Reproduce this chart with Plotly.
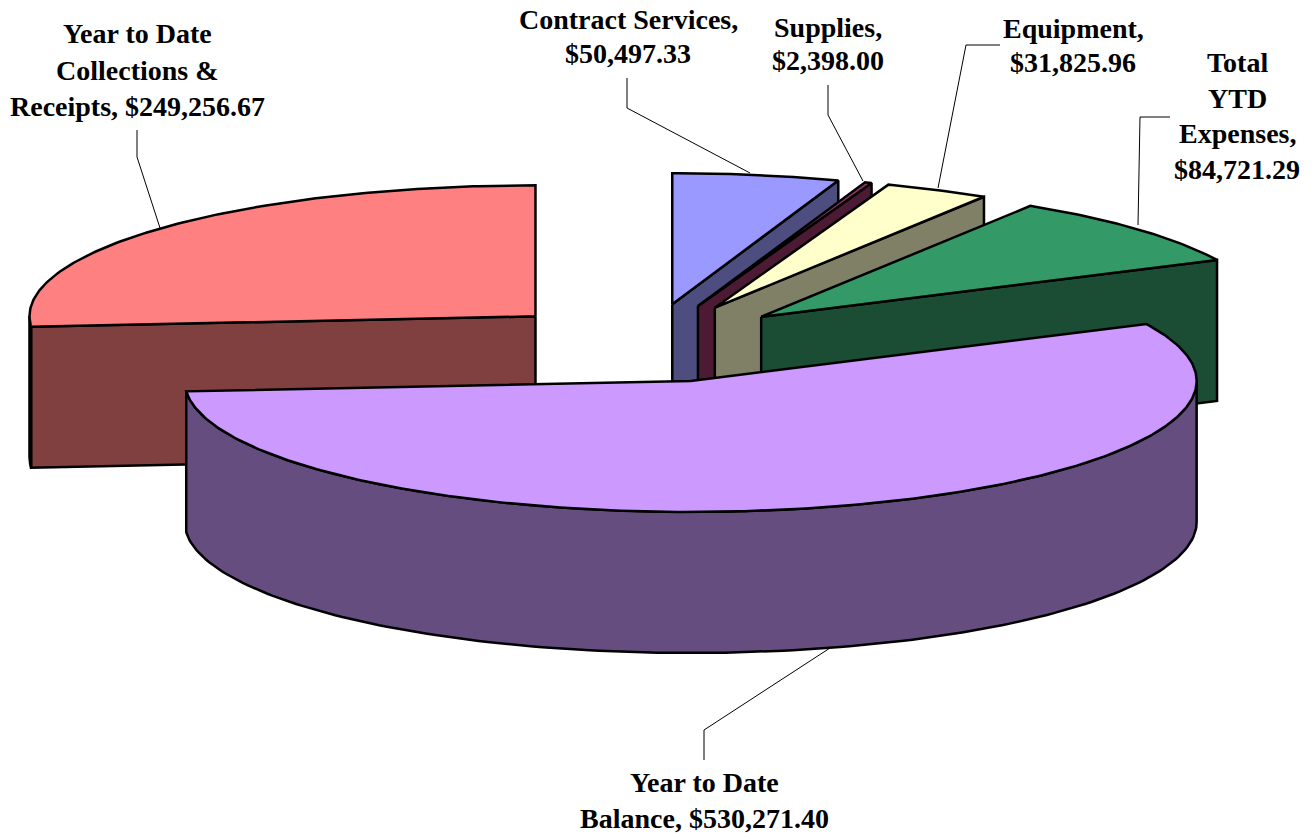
import numpy as np
import plotly.graph_objects as go

# --- data (clockwise from 12 o'clock)
categories = ["Contract Services", "Supplies", "Equipment", "Total YTD Expenses",
              "Year to Date Balance", "Year to Date Collections & Receipts"]
values = [50497.33, 2398.00, 31825.96, 84721.29, 530271.40, 249256.67]
top_colors = ["#9999FF", "#993366", "#FFFFCC", "#339966", "#CC99FF", "#FF8080"]
side_colors = ["#4D4D80", "#4D1A33", "#808066", "#1A4D33", "#664D80", "#804040"]

# --- label layout: lines of text, centre x, centre y of each line
label_lines = [
    (["Contract Services,", "{v}"], 628, [19, 53]),
    (["Supplies,", "{v}"], 828, [27, 60]),
    (["Equipment,", "{v}"], 1073, [28, 62]),
    (["Total", "YTD", "Expenses,", "{v}"], 1237, [62, 98, 133, 169]),
    (["Year to Date", "Balance, {v}"], 704, [782, 818]),
    (["Year to Date", "Collections &", "Receipts, {v}"], 137, [33, 70, 106]),
]
leader_lines = [
    ([627, 627, 750], [78, 108, 173]),
    ([828, 828, 863], [85, 115, 181]),
    ([1000, 966, 938], [45, 45, 188]),
    ([1170, 1140, 1138], [117, 117, 225]),
    ([704, 704, 830], [760, 730, 648]),
    ([137, 137, 160], [130, 157, 228]),
]

# --- projection of the pie
CX, CY, RX, RY, DEPTH, EXPLODE = 647, 343, 506, 131, 141, 0.30
x_nudge = [0, 0, 1, 1, 4, 0]
LW = 2.5


def rim(ax, ay, t):
    return ax + RX * np.sin(t), ay - RY * np.cos(t)


fig = go.Figure()


def face(xs, ys, color, name):
    fig.add_trace(go.Scatter(
        x=list(xs), y=list(ys), mode="lines", fill="toself", fillcolor=color,
        line=dict(color="black", width=LW), hoverinfo="text", text=name, showlegend=False))


def draw_slice(t0, t1, top, side, name, nudge):
    mid = (t0 + t1) / 2
    ax, ay = rim(CX, CY, mid)
    ax = CX + EXPLODE * (ax - CX) + nudge
    ay = CY + EXPLODE * (ay - CY)
    # visible radial cut faces
    if np.sin(t0) < -1e-6:
        x, y = rim(ax, ay, t0)
        face([ax, x, x, ax, ax], [ay, y, y + DEPTH, ay + DEPTH, ay], side, name)
    if np.sin(t1) > 1e-6:
        x, y = rim(ax, ay, t1)
        face([ax, x, x, ax, ax], [ay, y, y + DEPTH, ay + DEPTH, ay], side, name)
    # visible outer wall
    a0, a1 = max(t0, np.pi / 2), min(t1, 3 * np.pi / 2)
    if a1 > a0:
        tt = np.linspace(a0, a1, 160)
        x, y = rim(ax, ay, tt)
        face(np.r_[x, x[::-1], x[0]], np.r_[y, y[::-1] + DEPTH, y[0]], side, name)
    # top face
    tt = np.linspace(t0, t1, max(8, int((t1 - t0) * 90)))
    x, y = rim(ax, ay, tt)
    face(np.r_[ax, x, ax], np.r_[ay, y, ay], top, name)


shares = np.array(values) / sum(values) * 2 * np.pi
edges = np.r_[0, np.cumsum(shares)]
order = [5, 0, 1, 2, 3, 4]  # back to front
for i in order:
    draw_slice(edges[i], edges[i + 1], top_colors[i], side_colors[i], categories[i], x_nudge[i])

for lx, ly in leader_lines:
    fig.add_trace(go.Scatter(x=lx, y=ly, mode="lines", line=dict(color="black", width=1),
                             hoverinfo="skip", showlegend=False))

annotations = []
for (lines, x, ys), v in zip(label_lines, values):
    for line, y in zip(lines, ys):
        annotations.append(dict(
            x=x, y=y, xref="x", yref="y", showarrow=False, xanchor="center", yanchor="middle",
            text="<b>" + line.format(v=f"${v:,.2f}").replace("&", "&amp;") + "</b>",
            font=dict(family="Liberation Serif", size=28, color="black")))

fig.update_layout(
    width=1315, height=839, autosize=False,
    margin=dict(l=0, r=0, t=0, b=0),
    paper_bgcolor="white", plot_bgcolor="white",
    showlegend=False, annotations=annotations,
    xaxis=dict(range=[0, 1315], visible=False, fixedrange=True),
    yaxis=dict(range=[839, 0], visible=False, fixedrange=True),
)
fig.write_html("out.html", config={"displayModeBar": False},
               post_script="document.body.style.margin='0';")
